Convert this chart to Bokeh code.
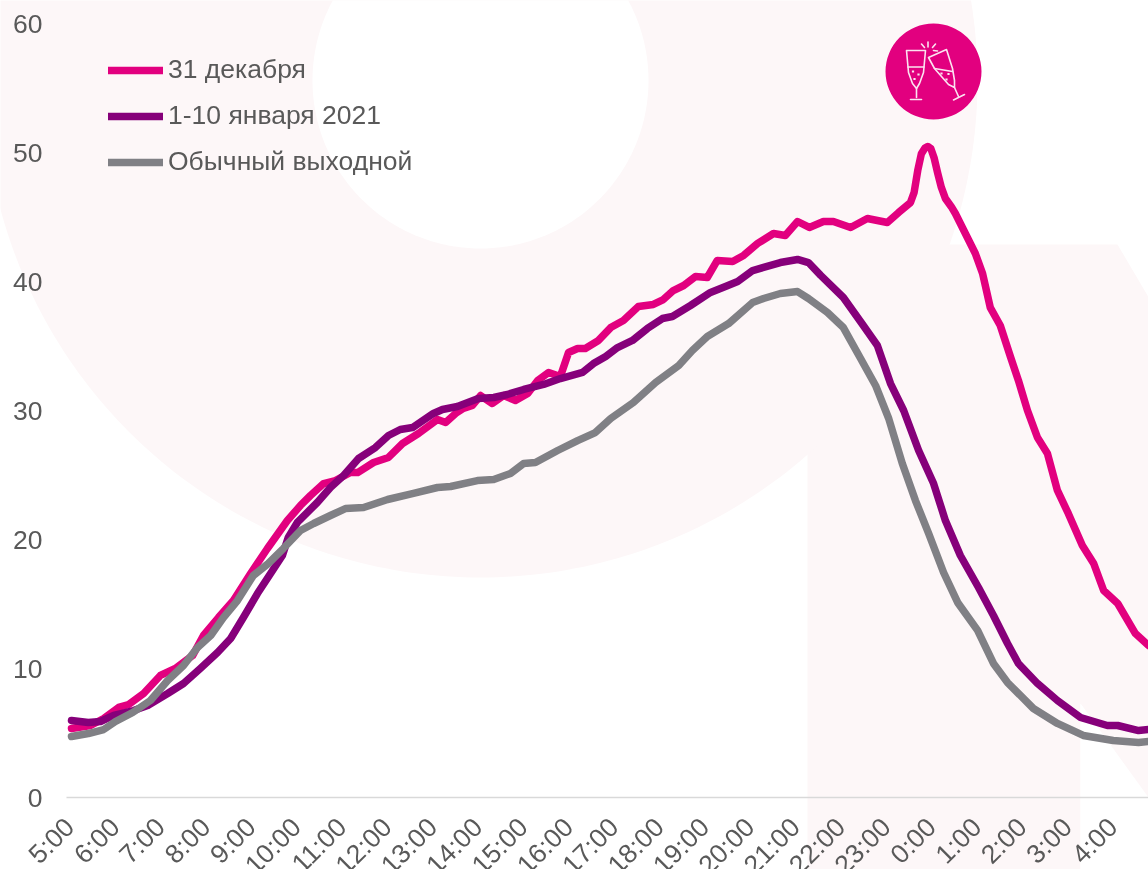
import numpy as np
from bokeh.plotting import figure
from bokeh.embed import file_html
from bokeh.resources import INLINE
from bokeh.models import Range1d, FixedTicker, Legend, LegendItem

tick_hours = list(range(5, 29))
tick_labels = ["5:00","6:00","7:00","8:00","9:00","10:00","11:00","12:00","13:00","14:00","15:00","16:00","17:00","18:00","19:00","20:00","21:00","22:00","23:00","0:00","1:00","2:00","3:00","4:00"]
y_ticks = [0, 10, 20, 30, 40, 50, 60]

series_names = ["31 декабря", "1-10 января 2021", "Обычный выходной"]

dec31_t = [5.00,5.42,5.71,6.04,6.26,6.59,6.96,7.29,7.67,7.91,8.24,8.57,8.95,9.32,9.76,10.05,10.27,10.56,10.82,11.15,11.31,11.66,11.99,12.30,12.65,13.07,13.25,13.47,13.64,13.84,14.02,14.28,14.53,14.79,15.06,15.28,15.52,15.78,15.96,16.16,16.33,16.62,16.89,17.17,17.50,17.83,18.05,18.27,18.50,18.76,19.02,19.24,19.58,19.82,20.13,20.48,20.74,21.01,21.27,21.58,21.80,22.18,22.55,22.99,23.24,23.50,23.58,23.66,23.74,23.82,23.88,23.95,24.02,24.10,24.18,24.27,24.40,24.49,24.93,25.09,25.26,25.48,25.71,25.88,26.08,26.30,26.52,26.74,26.98,27.29,27.54,27.76,28.07,28.46,28.75]
dec31_v = [5.35,5.58,6.12,6.98,7.21,8.06,9.46,10.0,11.0,12.56,13.95,15.27,17.36,19.3,21.47,22.64,23.41,24.34,24.57,25.19,25.19,25.97,26.36,27.44,28.22,29.3,29.07,29.77,30.16,30.39,31.16,30.54,31.16,30.78,31.32,32.33,32.95,32.64,34.5,34.81,34.81,35.43,36.43,36.98,38.06,38.22,38.6,39.3,39.69,40.39,40.31,41.63,41.55,42.02,42.95,43.72,43.57,44.65,44.19,44.65,44.65,44.19,44.88,44.57,45.35,46.12,46.9,48.6,49.9,50.35,50.47,50.3,49.6,48.4,47.3,46.43,45.8,45.27,42.17,40.62,37.98,36.59,34.11,32.33,30.0,27.91,26.67,23.8,22.02,19.53,18.14,16.05,15.04,12.71,11.78]

jan_t = [5.00,5.37,5.64,5.93,6.37,6.68,7.12,7.47,7.84,8.22,8.51,8.79,9.10,9.39,9.65,9.78,9.98,10.42,10.71,11.0,11.33,11.70,11.99,12.25,12.52,12.98,13.18,13.51,13.97,14.31,14.61,14.97,15.41,15.78,16.27,16.51,16.78,17.04,17.37,17.70,18.03,18.25,18.65,19.09,19.42,19.69,20.02,20.26,20.63,21.01,21.25,21.52,22.02,22.46,22.77,23.06,23.35,23.68,24.01,24.27,24.60,25.00,25.33,25.64,25.88,26.30,26.74,27.25,27.84,28.07,28.53,28.75]
jan_v = [5.97,5.81,5.89,6.36,6.74,7.13,8.06,8.84,10.0,11.24,12.33,13.95,15.81,17.36,18.76,20.16,21.32,22.87,24.03,24.96,26.28,27.13,28.06,28.53,28.68,29.77,30.08,30.31,30.93,31.01,31.24,31.63,32.02,32.48,32.95,33.64,34.19,34.88,35.43,36.36,37.13,37.29,38.14,39.15,39.61,40.0,40.85,41.09,41.47,41.71,41.47,40.47,38.76,36.59,35.04,32.09,30.0,26.9,24.34,21.47,18.76,16.28,14.11,11.94,10.39,8.84,7.52,6.2,5.58,5.58,5.19,5.27]

wknd_t = [5.00,5.37,5.71,5.97,6.35,6.74,7.12,7.47,7.78,8.07,8.35,8.66,9.01,9.34,9.67,10.05,10.34,10.71,11.04,11.44,11.97,12.54,13.07,13.36,13.95,14.31,14.68,14.97,15.23,15.72,16.16,16.55,16.89,17.39,17.88,18.39,18.69,19.02,19.49,20.02,20.26,20.63,21.01,21.25,21.67,22.02,22.40,22.73,23.02,23.32,23.61,23.90,24.23,24.54,24.98,25.33,25.64,26.21,26.74,27.31,27.97,28.53,28.75]
wknd_v = [4.73,4.96,5.27,5.89,6.59,7.52,9.07,10.23,11.63,12.56,13.95,15.27,17.21,18.14,19.3,20.7,21.24,21.86,22.4,22.48,23.1,23.57,24.03,24.11,24.57,24.65,25.12,25.89,25.97,26.9,27.67,28.29,29.38,30.62,32.17,33.49,34.65,35.74,36.74,38.37,38.68,39.07,39.22,38.68,37.6,36.43,34.03,31.94,29.38,25.89,23.02,20.47,17.44,15.12,12.95,10.39,8.91,6.9,5.74,4.81,4.42,4.26,4.34]

PINK = "#E2007F"
PURPLE = "#86007A"
GRAY = "#808085"
PALE = "#FDF7F8"
TEXT = "#595959"
ICON = "#FBE3F0"

W, H = 1148, 869
FRAME_L, FRAME_B = 66, 797
BOTTOM = 104
PX_PER_HOUR, PX_PER_UNIT = 45.35, 12.9
X0 = 71
FONT = "26.5px"
PIN = {"position": "fixed", "left": "0px", "top": "0px"}
TICK_SHIFT = 0.04

def hx(px):
    return 5 + (np.asarray(px, dtype=float) - X0) / PX_PER_HOUR
def vy(py):
    return (FRAME_B - np.asarray(py, dtype=float)) / PX_PER_UNIT

# pale emblem behind the chart, in its own full-page figure
bgf = figure(width=W, height=H, output_backend="svg", toolbar_location=None,
             x_range=Range1d(0, W), y_range=Range1d(H, 0), x_axis_location=None, y_axis_location=None,
             min_border=0, outline_line_color=None, background_fill_color="white",
             border_fill_color="white", styles=PIN)
bgf.grid.visible = False
theta = np.linspace(0, 2 * np.pi, 361)
bgf.patch([807, 1117, 1180, 1180, 1080, 1080, 807], [244, 244, 297 + 54, 843, 703, H, H], fill_color=PALE, line_color=None)
bgf.patch([1148, 1148, 1080, 1080], [797, H, H, 703], fill_color="white", line_color=None)
bgf.patch(480 + 497 * np.cos(theta), 80 + 497 * np.sin(theta), fill_color=PALE, line_color=None)
bgf.patch(480 + 168 * np.cos(theta), 80 + 168 * np.sin(theta), fill_color="white", line_color=None)

p = figure(width=W, height=FRAME_B + BOTTOM, output_backend="svg", toolbar_location=None,
           x_range=Range1d(float(hx(FRAME_L)), float(hx(W))),
           y_range=Range1d(0, float(vy(0))),
           min_border_left=FRAME_L, min_border_right=0, min_border_top=0,
           min_border_bottom=BOTTOM, outline_line_color=None,
           background_fill_color=None, border_fill_color=None, styles=PIN)
p.grid.visible = False

r1 = p.line(dec31_t, dec31_v, line_color=PINK, line_width=7.5, line_cap="round", line_join="round")
r2 = p.line(jan_t, jan_v, line_color=PURPLE, line_width=7.5, line_cap="round", line_join="round")
r3 = p.line(wknd_t, wknd_v, line_color=GRAY, line_width=7.5, line_cap="round", line_join="round")

# badge with glasses
p.scatter([float(hx(933))], [float(vy(71))], size=96, marker="circle", fill_color=PINK, line_color=None)
icon = [
    [(906, 50), (925, 50), (923, 72), (919, 83), (916, 88), (912, 83), (908, 72), (906, 50)],
    [(907.5, 66.5), (923.5, 66.5)],
    [(916, 88), (916, 97)],
    [(910, 99), (921, 99)],
    [(928, 57), (946, 49), (952, 68), (954, 80), (954, 87), (948, 84), (941, 76), (934, 68), (928, 57)],
    [(934, 68), (952, 71)],
    [(954, 87), (958, 96)],
    [(953, 99.5), (964, 94)],
    [(921, 43.5), (924, 47)],
    [(927.5, 41.5), (927.5, 46.5)],
    [(935, 43.5), (932, 47)],
    [(933, 50), (937, 50.5)],
]
p.multi_line([list(hx([a for a, _ in s])) for s in icon],
             [list(vy([b for _, b in s])) for s in icon],
             line_color=ICON, line_width=1.6, line_join="round", line_cap="round")
bub = [(912.5, 71), (918, 74), (914, 78.5), (941, 73), (948, 73.5), (946, 79)]
p.scatter(list(hx([a for a, _ in bub])), list(vy([b for _, b in bub])), marker="square", size=2.2,
          fill_color=ICON, line_color=None)

# axes
xa = p.xaxis[0]
tick_pos = [h - TICK_SHIFT for h in tick_hours]
xa.ticker = FixedTicker(ticks=tick_pos)
xa.major_label_overrides = {h: t for h, t in zip(tick_pos, tick_labels)}
xa.major_label_orientation = np.pi / 4
xa.major_label_text_font = "Liberation Sans"
xa.major_label_text_font_size = FONT
xa.major_label_text_color = TEXT
xa.major_label_standoff = 19
xa.major_tick_line_color = None
xa.minor_tick_line_color = None
xa.axis_line_color = "#D9D9D9"
xa.axis_line_width = 1.5

ya = p.yaxis[0]
ya.ticker = FixedTicker(ticks=y_ticks)
ya.major_label_text_font = "Liberation Sans"
ya.major_label_text_font_size = FONT
ya.major_label_text_color = TEXT
ya.major_label_standoff = 18
ya.major_tick_line_color = None
ya.minor_tick_line_color = None
ya.axis_line_color = None

legend = Legend(items=[LegendItem(label=series_names[0], renderers=[r1]),
                       LegendItem(label=series_names[1], renderers=[r2]),
                       LegendItem(label=series_names[2], renderers=[r3])],
                location=(42, 620), orientation="vertical", padding=0, margin=0, spacing=15,
                glyph_width=55, glyph_height=24, label_height=24, label_standoff=5,
                label_text_font="Liberation Sans", label_text_font_size=FONT, label_text_color=TEXT,
                background_fill_alpha=0, border_line_color=None)
p.add_layout(legend, "center")

open("out.html", "w").write(file_html([bgf, p], INLINE))
